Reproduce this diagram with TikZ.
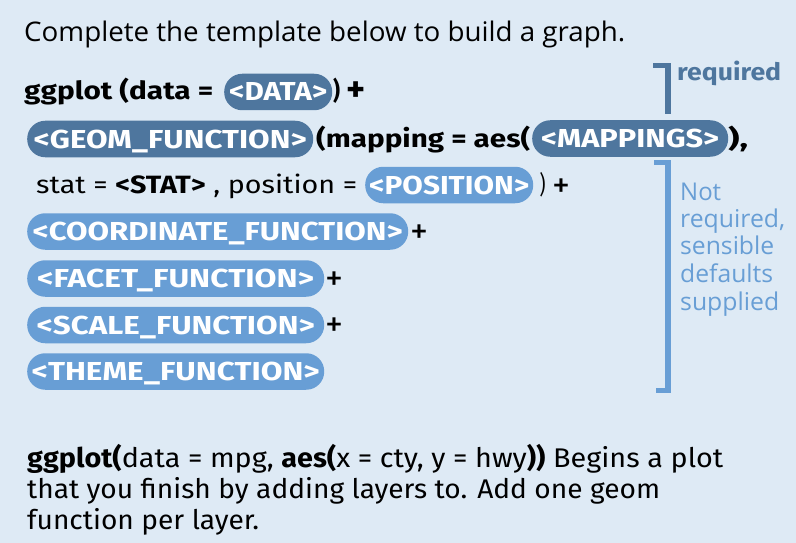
\documentclass[tikz,border=0pt]{standalone}
\usepackage{fontspec}
\setmainfont{Fira Sans}
\newfontfamily\osans{Open Sans}
\definecolor{bg}{RGB}{222,234,245}
\definecolor{dk}{RGB}{78,118,158}
\definecolor{lt}{RGB}{104,158,213}
\newcommand\fw[2]{\resizebox{#1pt}{\height}{#2}}
\begin{document}
\begin{tikzpicture}[x=1pt,y=-1pt,
  txt/.style={inner sep=0pt, anchor=base west},
  code/.style={txt, font=\bfseries\fontsize{25}{25}\selectfont},
  plain/.style={txt, font=\fontsize{25}{25}\selectfont},
  plus/.style={inner sep=0pt, anchor=base, font=\fontsize{36}{36}\selectfont},
  pill/.style={rounded corners=18pt, minimum height=36.5pt, inner xsep=0pt, inner ysep=0pt,
    text height=18pt, text depth=0pt, text=white, font=\bfseries\fontsize{26}{26}\selectfont, anchor=west},
  pilld/.style={pill, fill=dk},
  pilll/.style={pill, fill=lt},
  side/.style={txt, font=\osans\fontsize{24.5}{24.5}\selectfont, text=lt},
  body/.style={txt, font=\fontsize{27}{27}\selectfont},
  brk/.style={line width=5.5pt}
]
\fill[bg] (0,0) rectangle (796,543);
\node[txt, font=\osans\fontsize{27}{27}\selectfont] (title) at (24,42) {\fw{601}{Complete the template below to build a graph.}};
% row 2
\node[code] (g1) at (24,100) {\fw{189}{ggplot (data =}};
\node[pilld, minimum width=108pt] (data) at (224,92) {\fw{98}{<DATA>}};
\node[code] (g2) at (333,100) {\fw{7}{)}};
\node[plus, font=\bfseries\fontsize{36}{36}\selectfont] (q1) at (356.5,102) {+};
% row 3
\node[pilld, minimum width=286pt] (geom) at (27,139) {\fw{273}{<GEOM\_FUNCTION>}};
\node[code] (g3) at (316,147) {\fw{214}{(mapping = aes(}};
\node[pilld, minimum width=196pt] (map) at (532,138.5) {\fw{178}{<MAPPINGS>}};
\node[code] (g4) at (728,147) {\fw{20}{),}};
% row 4
\node[plain] (g5) at (36,193) {\fw{321}{stat = \textbf{<STAT>} , position =}};
\node[pilll, minimum width=168pt] (pos) at (365,185) {\fw{160}{<POSITION>}};
\node[plain] (g6) at (539.5,193) {\fw{6}{)}};
\node[plus] (q2) at (561.5,197) {+};
% rows 5-8
\node[pilll, minimum width=381pt] (coord) at (27,231.5) {\fw{370}{<COORDINATE\_FUNCTION>}};
\node[plus] (p1) at (419.5,243) {+};
\node[pilll, minimum width=297pt] (facet) at (27,278.5) {\fw{277}{<FACET\_FUNCTION>}};
\node[plus] (p2) at (334,290) {+};
\node[pilll, minimum width=297pt] (scale) at (27,325) {\fw{278}{<SCALE\_FUNCTION>}};
\node[plus] (p3) at (334,336.5) {+};
\node[pilll, minimum width=297pt] (theme) at (27,371.5) {\fw{288}{<THEME\_FUNCTION>}};
% brackets
\draw[brk, dk] (653,65.5) -- (668,65.5) -- (668,114);
\node[txt, font=\bfseries\fontsize{24}{24}\selectfont, text=dk] (req) at (677,81) {\fw{104}{required}};
\draw[brk, lt] (654,162.5) -- (668,162.5) -- (668,390.5) -- (656,390.5);
\node[side] (n1) at (680,200) {\fw{41}{Not}};
\node[side] (n2) at (680,227) {\fw{105}{required,}};
\node[side] (n3) at (680,254) {\fw{94}{sensible}};
\node[side] (n4) at (680,282) {\fw{93}{defaults}};
\node[side] (n5) at (680,310) {\fw{99}{supplied}};
% bottom paragraph
\node[body] (b1) at (27,467) {\fw{696}{\textbf{ggplot(}data = mpg, \textbf{aes(}x = cty, y = hwy\textbf{))} Begins a plot}};
\node[body] (b2) at (27,498) {\fw{633}{that you finish by adding layers to. Add one geom}};
\node[body] (b3) at (27,529.5) {\fw{232}{function per layer.}};
\end{tikzpicture}
\end{document}
